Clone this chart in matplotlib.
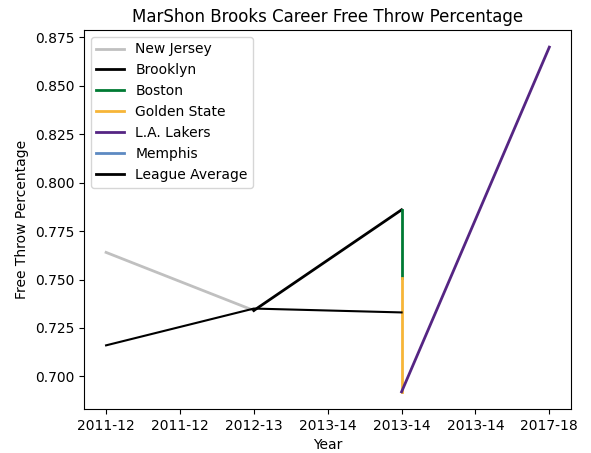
import matplotlib
matplotlib.use('Agg')
import matplotlib.pyplot as plt

teams = ['New Jersey', 'Brooklyn', 'Boston', 'Golden State', 'L.A. Lakers', 'Memphis']
team_colors = ['#c0c0c0', '#000000', '#007a33', '#f7b538', '#552583', '#5d8ac2']
team_x = [[0, 1], [1, 2], [2, 2], [2, 2], [2, 3], [3, 3]]
team_ft = [[0.764, 0.734], [0.734, 0.786], [0.786, 0.751], [0.751, 0.692],
           [0.692, 0.870], [0.870, 0.870]]

league_x = [0, 1, 2]
league_ft = [0.716, 0.735, 0.733]

tick_pos = [0, 0.5, 1, 1.5, 2, 2.5, 3]
tick_labels = ['2011-12', '2011-12', '2012-13', '2013-14', '2013-14', '2013-14', '2017-18']

fig, ax = plt.subplots(figsize=(5.91, 4.53), dpi=100)
fig.subplots_adjust(left=0.142, right=0.967, top=0.934, bottom=0.097)
for name, c, xs, ys in zip(teams, team_colors, team_x, team_ft):
    ax.plot(xs, ys, color=c, linewidth=2, label=name)
ax.plot(league_x, league_ft, color='black', linewidth=1.5, label='League Average')
ax.set_xticks(tick_pos)
ax.set_xticklabels(tick_labels)
ax.set_xlabel('Year')
ax.set_ylabel('Free Throw Percentage')
ax.set_title('MarShon Brooks Career Free Throw Percentage')
leg = ax.legend(loc='upper left')
leg.legend_handles[-1].set_linewidth(2)
fig.savefig('out.png')
